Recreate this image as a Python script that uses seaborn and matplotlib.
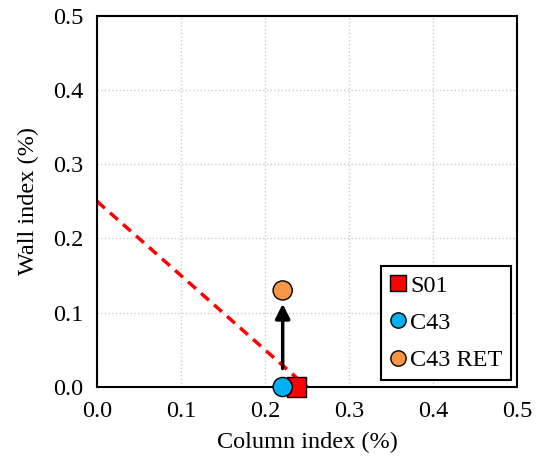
import pandas as pd
import seaborn as sns
import matplotlib.pyplot as plt

# Data
labels = ['S01', 'C43', 'C43 RET']
column_index = [0.237, 0.221, 0.221]
wall_index = [0.0, 0.0, 0.13]
markers = ['s', 'o', 'o']
colors = ['#ff0000', '#00b0f0', '#f79646']

limit_x = [0.0, 0.25]
limit_y = [0.25, 0.0]

arrow_x = 0.221
arrow_from = 0.025
arrow_to = 0.112

df = pd.DataFrame({'label': labels, 'x': column_index, 'y': wall_index})

sns.set_style('white')
plt.rcParams['font.family'] = ['Liberation Serif', 'DejaVu Serif']
plt.rcParams['text.color'] = 'black'
plt.rcParams['axes.labelcolor'] = 'black'

fig = plt.figure(figsize=(5.42, 4.66), dpi=100)
ax = fig.add_axes([0.179, 0.1695, 0.775, 0.797])

# red dashed limit line
ax.plot(limit_x, limit_y, color='red', linestyle=(0, (3, 2)), linewidth=2.5, zorder=2)

# arrow from C43 to C43 RET
ax.annotate('', xy=(arrow_x, arrow_to), xytext=(arrow_x, arrow_from),
            arrowprops=dict(arrowstyle='-|>', color='black', lw=2.5,
                            mutation_scale=22, shrinkA=0, shrinkB=0), zorder=3)

sns.scatterplot(data=df, x='x', y='y', hue='label', style='label',
                palette=dict(zip(labels, colors)), markers=dict(zip(labels, markers)),
                s=190, edgecolor='black', linewidth=1, ax=ax, zorder=4, clip_on=False)

ax.set_xlim(0, 0.5)
ax.set_ylim(0, 0.5)
ax.set_xticks([0, 0.1, 0.2, 0.3, 0.4, 0.5])
ax.set_yticks([0, 0.1, 0.2, 0.3, 0.4, 0.5])
ax.xaxis.set_major_formatter(plt.FormatStrFormatter('%.1f'))
ax.yaxis.set_major_formatter(plt.FormatStrFormatter('%.1f'))
ax.grid(True, color='#cccccc', linestyle=':', linewidth=1)
for side in ax.spines.values():
    side.set_color('black')
    side.set_linewidth(1.5)
ax.tick_params(labelsize=17.5, length=0, pad=10, colors='black')
ax.set_xlabel('Column index (%)', fontsize=17.5, labelpad=7, color='black')
ax.set_ylabel('Wall index (%)', fontsize=17.5, labelpad=10, color='black')

leg = ax.legend(title=None, loc='lower right', bbox_to_anchor=(0.985, 0.02),
                fontsize=17.5, frameon=True, fancybox=False, edgecolor='black',
                handletextpad=0.15, handlelength=0.7, labelspacing=0.62, borderpad=0.35,
                borderaxespad=0.0, markerscale=0.8)
leg.get_frame().set_linewidth(1.5)
leg.get_frame().set_alpha(1)

fig.savefig('out.png', dpi=100)
